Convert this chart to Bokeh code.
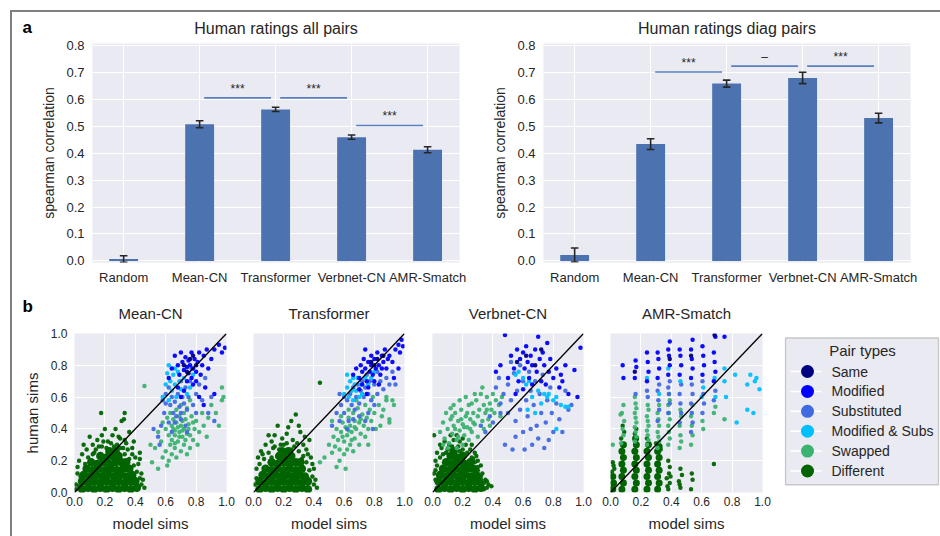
from bokeh.plotting import figure
from bokeh.models import Range1d, FixedTicker, Title, Slope, Div, Spacer, NumeralTickFormatter
from bokeh.layouts import row, column
from bokeh.embed import file_html
from bokeh.resources import INLINE
from bokeh.core.properties import value

FONT = "Liberation Sans"
BG = "#EAEAF2"
BAR = "#4C72B0"
TXT = "#262626"

# ---------------- panel a data ----------------
categories = ["Random", "Mean-CN", "Transformer", "Verbnet-CN", "AMR-Smatch"]
all_pairs_mean = [0.007, 0.508, 0.563, 0.460, 0.413]
all_pairs_err = [0.012, 0.013, 0.008, 0.008, 0.011]
diag_pairs_mean = [0.022, 0.434, 0.659, 0.680, 0.531]
diag_pairs_err = [0.026, 0.020, 0.013, 0.021, 0.018]
all_sig_pairs = [(1, 2), (2, 3), (3, 4)]
all_sig_y = [0.606, 0.606, 0.503]
all_sig_text = ["***", "***", "***"]
diag_sig_pairs = [(1, 2), (2, 3), (3, 4)]
diag_sig_y = [0.702, 0.724, 0.724]
diag_sig_text = ["***", "\u2013", "***"]
bar_yticks = [0.0, 0.1, 0.2, 0.3, 0.4, 0.5, 0.6, 0.7, 0.8]

# ---------------- panel b data ----------------
pair_types = ["Same", "Modified", "Substituted", "Modified & Subs", "Swapped", "Different"]
pair_colors = ["#000080", "#0000FF", "#4169E1", "#00BFFF", "#3CB371", "#006400"]
scatter_ticks = [0.0, 0.2, 0.4, 0.6, 0.8, 1.0]

MEAN_DIFF_CORE = [
    (0.05, 0.02), (0.09, 0.03), (0.13, 0.02), (0.17, 0.03), (0.21, 0.02), (0.25, 0.03), (0.29, 0.02), (0.33, 0.03), (0.37, 0.02), (0.41, 0.03),
    (0.05, 0.07), (0.09, 0.06), (0.13, 0.07), (0.17, 0.06), (0.21, 0.07), (0.25, 0.06), (0.29, 0.07), (0.33, 0.06), (0.37, 0.07), (0.40, 0.07),
    (0.06, 0.11), (0.10, 0.10), (0.14, 0.11), (0.18, 0.10), (0.22, 0.11), (0.26, 0.10), (0.30, 0.11), (0.34, 0.10), (0.38, 0.11),
    (0.08, 0.15), (0.12, 0.14), (0.16, 0.15), (0.20, 0.14), (0.24, 0.15), (0.28, 0.14), (0.32, 0.15), (0.36, 0.15),
    (0.11, 0.19), (0.15, 0.18), (0.19, 0.19), (0.23, 0.18), (0.27, 0.19), (0.31, 0.19), (0.34, 0.19),
    (0.17, 0.23), (0.21, 0.22), (0.25, 0.23), (0.29, 0.23), (0.23, 0.26), (0.27, 0.26)]
MEAN_DIFF = [
    (0.02, 0.12), (0.03, 0.20), (0.05, 0.24), (0.08, 0.27), (0.12, 0.30), (0.15, 0.33), (0.18, 0.36), (0.175, 0.50),
    (0.22, 0.32), (0.25, 0.36), (0.27, 0.40), (0.30, 0.34), (0.31, 0.45), (0.325, 0.46), (0.33, 0.50), (0.34, 0.31),
    (0.36, 0.38), (0.38, 0.28), (0.40, 0.22), (0.42, 0.18), (0.44, 0.12), (0.45, 0.08), (0.46, 0.03), (0.43, 0.25),
    (0.10, 0.35), (0.20, 0.40), (0.28, 0.30), (0.35, 0.27), (0.01, 0.05), (0.14, 0.27), (0.24, 0.31), (0.33, 0.33),
    (0.39, 0.32), (0.06, 0.30), (0.02, 0.16), (0.43, 0.21), (0.16, 0.29), (0.32, 0.28),
    (0.04, 0.10), (0.07, 0.18), (0.09, 0.22), (0.13, 0.25), (0.18, 0.29), (0.21, 0.28), (0.26, 0.29), (0.30, 0.28),
    (0.33, 0.24), (0.36, 0.21), (0.39, 0.17), (0.41, 0.13), (0.43, 0.09), (0.44, 0.05), (0.01, 0.02), (0.03, 0.04),
    (0.19, 0.32), (0.29, 0.35), (0.12, 0.24), (0.38, 0.24)]
MEAN_SWAP = [
    (0.51, 0.19), (0.55, 0.15), (0.58, 0.22), (0.60, 0.26), (0.61, 0.17), (0.63, 0.30), (0.64, 0.24), (0.66, 0.28),
    (0.67, 0.22), (0.70, 0.26), (0.72, 0.30), (0.74, 0.24), (0.76, 0.28), (0.78, 0.33), (0.62, 0.36), (0.64, 0.33),
    (0.65, 0.40), (0.66, 0.36), (0.67, 0.44), (0.68, 0.32), (0.69, 0.38), (0.70, 0.42), (0.71, 0.35), (0.72, 0.40),
    (0.73, 0.46), (0.74, 0.37), (0.75, 0.43), (0.76, 0.36), (0.77, 0.48), (0.79, 0.40), (0.80, 0.45), (0.82, 0.38),
    (0.84, 0.50), (0.85, 0.42), (0.88, 0.47), (0.60, 0.40), (0.58, 0.44), (0.61, 0.47), (0.63, 0.50), (0.65, 0.46),
    (0.67, 0.52), (0.69, 0.48), (0.70, 0.55), (0.72, 0.50), (0.74, 0.53), (0.76, 0.58), (0.57, 0.32), (0.55, 0.38),
    (0.53, 0.28), (0.66, 0.31), (0.71, 0.45), (0.68, 0.41), (0.64, 0.42), (0.73, 0.33), (0.78, 0.44), (0.81, 0.30),
    (0.90, 0.55), (0.95, 0.42), (0.97, 0.58), (0.98, 0.60), (0.97, 0.66), (0.93, 0.50), (0.46, 0.67), (0.50, 0.30),
    (0.87, 0.35), (0.62, 0.20), (0.69, 0.35), (0.71, 0.39), (0.66, 0.39), (0.75, 0.40)]
MEAN_SUBS = [
    (0.55, 0.35), (0.57, 0.42), (0.59, 0.50), (0.60, 0.56), (0.62, 0.44), (0.63, 0.55), (0.64, 0.60), (0.65, 0.50),
    (0.66, 0.57), (0.67, 0.48), (0.68, 0.62), (0.69, 0.54), (0.70, 0.50), (0.71, 0.60), (0.72, 0.56), (0.73, 0.66),
    (0.74, 0.52), (0.75, 0.60), (0.76, 0.70), (0.78, 0.55), (0.80, 0.62), (0.82, 0.68), (0.84, 0.58), (0.86, 0.72),
    (0.88, 0.50), (0.62, 0.66), (0.60, 0.62), (0.58, 0.58), (0.66, 0.44), (0.70, 0.46), (0.73, 0.42), (0.64, 0.38),
    (0.56, 0.30), (0.52, 0.40), (0.90, 0.60), (0.77, 0.78), (0.70, 0.70), (0.74, 0.38), (0.80, 0.50), (0.92, 0.45)]
MEAN_MOD = [
    (0.62, 0.72), (0.64, 0.78), (0.66, 0.86), (0.68, 0.80), (0.69, 0.74), (0.70, 0.88), (0.71, 0.82), (0.72, 0.77),
    (0.73, 0.85), (0.74, 0.79), (0.75, 0.75), (0.75, 0.83), (0.76, 0.80), (0.77, 0.88), (0.77, 0.72), (0.78, 0.78),
    (0.79, 0.84), (0.80, 0.76), (0.80, 0.70), (0.81, 0.82), (0.82, 0.88), (0.83, 0.74), (0.84, 0.80), (0.85, 0.86),
    (0.86, 0.66), (0.87, 0.90), (0.88, 0.78), (0.90, 0.84), (0.92, 0.90), (0.95, 0.93), (0.97, 0.88), (0.99, 0.91),
    (0.78, 0.68), (0.74, 0.70), (0.72, 0.64), (0.82, 0.60), (0.85, 0.55), (0.92, 0.62), (0.68, 0.66), (0.70, 0.60)]
MEAN_MODSUBS = [
    (0.58, 0.60), (0.60, 0.68), (0.61, 0.75), (0.62, 0.58), (0.63, 0.70), (0.64, 0.64), (0.65, 0.74), (0.66, 0.68),
    (0.67, 0.60), (0.68, 0.76), (0.69, 0.70), (0.70, 0.65), (0.72, 0.72), (0.74, 0.62), (0.76, 0.66), (0.78, 0.74),
    (0.66, 0.78), (0.62, 0.80)]
MEAN_SAME = [(0.72, 0.80), (0.76, 0.84), (0.74, 0.76), (0.80, 0.80), (0.78, 0.86)]

TRANS_DIFF_CORE = [
    (0.04, 0.02), (0.08, 0.03), (0.12, 0.02), (0.16, 0.03), (0.20, 0.02), (0.24, 0.03), (0.28, 0.02), (0.32, 0.03), (0.36, 0.02),
    (0.04, 0.07), (0.08, 0.06), (0.12, 0.07), (0.16, 0.06), (0.20, 0.07), (0.24, 0.06), (0.28, 0.07), (0.32, 0.06), (0.36, 0.07),
    (0.06, 0.11), (0.10, 0.10), (0.14, 0.11), (0.18, 0.10), (0.22, 0.11), (0.26, 0.10), (0.30, 0.11), (0.34, 0.10),
    (0.08, 0.15), (0.12, 0.14), (0.16, 0.15), (0.20, 0.14), (0.24, 0.15), (0.28, 0.14), (0.32, 0.15),
    (0.12, 0.19), (0.16, 0.18), (0.20, 0.19), (0.24, 0.18), (0.28, 0.19), (0.31, 0.19),
    (0.17, 0.23), (0.21, 0.22), (0.25, 0.23), (0.19, 0.26), (0.23, 0.26)]
TRANS_DIFF = [
    (0.01, 0.05), (0.02, 0.15), (0.03, 0.22), (0.05, 0.26), (0.08, 0.30), (0.12, 0.32), (0.16, 0.42), (0.14, 0.36),
    (0.19, 0.34), (0.22, 0.37), (0.26, 0.33), (0.28, 0.49), (0.25, 0.45), (0.30, 0.42), (0.31, 0.38), (0.33, 0.30),
    (0.35, 0.27), (0.37, 0.33), (0.38, 0.22), (0.40, 0.15), (0.41, 0.08), (0.42, 0.03), (0.44, 0.69), (0.10, 0.36),
    (0.20, 0.30), (0.34, 0.35), (0.29, 0.31), (0.06, 0.24), (0.23, 0.41), (0.39, 0.18), (0.13, 0.28), (0.36, 0.24),
    (0.02, 0.09), (0.04, 0.18), (0.07, 0.21), (0.10, 0.25), (0.14, 0.29), (0.18, 0.30), (0.22, 0.31), (0.27, 0.29),
    (0.30, 0.26), (0.33, 0.23), (0.35, 0.19), (0.37, 0.14), (0.39, 0.10), (0.40, 0.05), (0.17, 0.27), (0.25, 0.27),
    (0.12, 0.22), (0.32, 0.21)]
TRANS_SWAP = [
    (0.44, 0.19), (0.47, 0.22), (0.50, 0.30), (0.52, 0.25), (0.53, 0.35), (0.54, 0.29), (0.55, 0.40), (0.56, 0.33),
    (0.57, 0.27), (0.58, 0.38), (0.59, 0.44), (0.60, 0.32), (0.60, 0.24), (0.61, 0.41), (0.62, 0.36), (0.63, 0.47),
    (0.64, 0.30), (0.64, 0.42), (0.65, 0.38), (0.66, 0.50), (0.67, 0.34), (0.67, 0.45), (0.68, 0.40), (0.69, 0.53),
    (0.70, 0.44), (0.71, 0.37), (0.72, 0.49), (0.73, 0.42), (0.74, 0.55), (0.75, 0.47), (0.76, 0.40), (0.77, 0.52),
    (0.78, 0.45), (0.80, 0.50), (0.81, 0.40), (0.83, 0.55), (0.85, 0.48), (0.86, 0.52), (0.88, 0.58), (0.90, 0.44),
    (0.92, 0.58), (0.93, 0.55), (0.57, 0.20), (0.62, 0.27), (0.66, 0.26), (0.58, 0.48), (0.70, 0.30), (0.74, 0.35),
    (0.79, 0.60), (0.55, 0.16), (0.63, 0.52), (0.68, 0.58), (0.61, 0.15), (0.72, 0.62), (0.84, 0.42), (0.90, 0.46),
    (0.52, 0.45), (0.76, 0.30), (0.88, 0.60), (0.65, 0.33), (0.59, 0.35), (0.63, 0.39), (0.67, 0.41), (0.71, 0.46)]
TRANS_SUBS = [
    (0.52, 0.42), (0.55, 0.50), (0.57, 0.45), (0.58, 0.55), (0.60, 0.50), (0.62, 0.58), (0.63, 0.45), (0.64, 0.62),
    (0.65, 0.55), (0.66, 0.66), (0.67, 0.52), (0.68, 0.60), (0.69, 0.68), (0.70, 0.56), (0.71, 0.64), (0.72, 0.70),
    (0.73, 0.60), (0.74, 0.66), (0.75, 0.74), (0.76, 0.62), (0.77, 0.70), (0.78, 0.58), (0.80, 0.68), (0.82, 0.76),
    (0.84, 0.70), (0.86, 0.65), (0.88, 0.72), (0.90, 0.68), (0.92, 0.76), (0.76, 0.50), (0.79, 0.40), (0.62, 0.40),
    (0.66, 0.46), (0.70, 0.48), (0.74, 0.45), (0.60, 0.60), (0.57, 0.62), (0.82, 0.62), (0.80, 0.55), (0.94, 0.68)]
TRANS_MOD = [
    (0.66, 0.74), (0.68, 0.78), (0.70, 0.72), (0.71, 0.80), (0.72, 0.76), (0.73, 0.84), (0.74, 0.78), (0.75, 0.70),
    (0.76, 0.82), (0.77, 0.76), (0.78, 0.86), (0.78, 0.80), (0.79, 0.74), (0.80, 0.84), (0.81, 0.78), (0.82, 0.88),
    (0.83, 0.80), (0.84, 0.74), (0.85, 0.86), (0.86, 0.82), (0.87, 0.90), (0.88, 0.78), (0.90, 0.86), (0.92, 0.82),
    (0.94, 0.90), (0.96, 0.93), (0.97, 0.88), (0.98, 0.96), (0.99, 0.92), (0.93, 0.72), (0.96, 0.78), (0.80, 0.70),
    (0.76, 0.66), (0.72, 0.68), (0.74, 0.90), (0.70, 0.65), (0.85, 0.78), (0.89, 0.84), (0.83, 0.68), (0.75, 0.62)]
TRANS_MODSUBS = [
    (0.60, 0.62), (0.62, 0.66), (0.63, 0.60), (0.64, 0.70), (0.65, 0.64), (0.66, 0.58), (0.67, 0.68), (0.68, 0.64),
    (0.69, 0.72), (0.70, 0.60), (0.71, 0.68), (0.72, 0.62), (0.74, 0.72), (0.76, 0.68), (0.78, 0.72), (0.66, 0.72),
    (0.62, 0.74), (0.80, 0.76)]
TRANS_SAME = [(0.78, 0.82), (0.82, 0.84), (0.86, 0.86), (0.80, 0.80)]

VERB_DIFF_CORE = [
    (0.04, 0.02), (0.08, 0.03), (0.12, 0.02), (0.16, 0.03), (0.20, 0.02), (0.24, 0.03), (0.28, 0.02), (0.32, 0.03),
    (0.04, 0.07), (0.08, 0.06), (0.12, 0.07), (0.16, 0.06), (0.20, 0.07), (0.24, 0.06), (0.28, 0.07), (0.31, 0.07),
    (0.05, 0.11), (0.09, 0.10), (0.13, 0.11), (0.17, 0.10), (0.21, 0.11), (0.25, 0.10), (0.29, 0.11),
    (0.07, 0.15), (0.11, 0.14), (0.15, 0.15), (0.19, 0.14), (0.23, 0.15), (0.27, 0.15),
    (0.09, 0.19), (0.13, 0.18), (0.17, 0.19), (0.21, 0.18), (0.25, 0.19),
    (0.12, 0.23), (0.16, 0.22), (0.20, 0.23), (0.14, 0.26)]
VERB_DIFF = [
    (0.01, 0.36), (0.01, 0.12), (0.02, 0.20), (0.03, 0.25), (0.06, 0.28), (0.08, 0.32), (0.11, 0.30), (0.14, 0.33),
    (0.18, 0.32), (0.22, 0.30), (0.25, 0.27), (0.28, 0.25), (0.30, 0.20), (0.32, 0.17), (0.33, 0.12), (0.35, 0.08),
    (0.37, 0.05), (0.39, 0.04), (0.34, 0.02), (0.05, 0.30), (0.16, 0.36), (0.20, 0.34), (0.26, 0.30), (0.30, 0.14),
    (0.12, 0.36), (0.36, 0.03), (0.02, 0.08), (0.29, 0.23),
    (0.02, 0.14), (0.03, 0.17), (0.05, 0.22), (0.07, 0.24), (0.10, 0.27), (0.13, 0.29), (0.17, 0.29), (0.20, 0.27),
    (0.23, 0.25), (0.26, 0.22), (0.28, 0.19), (0.30, 0.16), (0.32, 0.10), (0.34, 0.06), (0.09, 0.25), (0.18, 0.26),
    (0.27, 0.21), (0.36, 0.07)]
VERB_SWAP = [
    (0.05, 0.38), (0.07, 0.44), (0.08, 0.34), (0.09, 0.50), (0.10, 0.40), (0.11, 0.31), (0.12, 0.46), (0.12, 0.53),
    (0.13, 0.37), (0.14, 0.42), (0.15, 0.50), (0.16, 0.33), (0.17, 0.45), (0.18, 0.39), (0.19, 0.52), (0.20, 0.43),
    (0.21, 0.36), (0.22, 0.48), (0.23, 0.41), (0.24, 0.55), (0.25, 0.46), (0.26, 0.38), (0.27, 0.50), (0.28, 0.43),
    (0.29, 0.58), (0.30, 0.48), (0.31, 0.52), (0.32, 0.62), (0.33, 0.45), (0.33, 0.66), (0.34, 0.55), (0.35, 0.50),
    (0.36, 0.60), (0.37, 0.46), (0.38, 0.56), (0.39, 0.52), (0.40, 0.62), (0.41, 0.50), (0.42, 0.58), (0.44, 0.55),
    (0.46, 0.60), (0.16, 0.28), (0.20, 0.30), (0.24, 0.33), (0.10, 0.28), (0.14, 0.55), (0.18, 0.58), (0.22, 0.60),
    (0.26, 0.56), (0.30, 0.35), (0.07, 0.30), (0.34, 0.40), (0.38, 0.42), (0.28, 0.62), (0.19, 0.46), (0.13, 0.48),
    (0.23, 0.50), (0.27, 0.44), (0.36, 0.52), (0.45, 0.48), (0.15, 0.40), (0.21, 0.41), (0.17, 0.35), (0.25, 0.40)]
VERB_SUBS = [
    (0.32, 0.42), (0.35, 0.38), (0.38, 0.48), (0.40, 0.44), (0.42, 0.66), (0.44, 0.72), (0.45, 0.56), (0.47, 0.62),
    (0.48, 0.30), (0.50, 0.50), (0.50, 0.68), (0.52, 0.58), (0.53, 0.27), (0.54, 0.75), (0.55, 0.45), (0.56, 0.64),
    (0.58, 0.52), (0.58, 0.80), (0.60, 0.38), (0.60, 0.70), (0.61, 0.27), (0.62, 0.58), (0.63, 0.48), (0.64, 0.76),
    (0.65, 0.64), (0.66, 0.30), (0.67, 0.55), (0.68, 0.70), (0.69, 0.42), (0.70, 0.34), (0.71, 0.62), (0.72, 0.50),
    (0.73, 0.74), (0.75, 0.44), (0.76, 0.58), (0.77, 0.33), (0.78, 0.66), (0.79, 0.50), (0.80, 0.38), (0.82, 0.56),
    (0.84, 0.46), (0.86, 0.38), (0.88, 0.64), (0.90, 0.52), (0.92, 0.55), (0.55, 0.35), (0.65, 0.40), (0.45, 0.50),
    (0.52, 0.82), (0.74, 0.28)]
VERB_MOD = [
    (0.42, 0.76), (0.45, 0.80), (0.48, 0.99), (0.50, 0.72), (0.52, 0.86), (0.54, 0.78), (0.56, 0.90), (0.57, 0.70),
    (0.58, 0.84), (0.60, 0.88), (0.61, 0.78), (0.62, 0.92), (0.63, 0.82), (0.64, 0.72), (0.65, 0.86), (0.66, 0.80),
    (0.68, 0.90), (0.69, 0.76), (0.70, 0.98), (0.71, 0.84), (0.72, 0.70), (0.73, 0.88), (0.74, 0.80), (0.76, 0.94),
    (0.77, 0.76), (0.78, 0.84), (0.80, 0.72), (0.82, 0.78), (0.84, 0.66), (0.86, 0.70), (0.88, 0.80), (0.90, 0.62),
    (0.94, 0.77), (0.96, 0.60), (0.98, 0.91), (0.60, 0.65), (0.55, 0.62), (0.66, 0.68), (0.75, 0.68), (0.85, 0.74)]
VERB_MODSUBS = [
    (0.55, 0.74), (0.57, 0.76), (0.60, 0.72), (0.62, 0.68), (0.64, 0.70), (0.66, 0.60), (0.70, 0.64), (0.72, 0.56),
    (0.74, 0.62), (0.76, 0.60), (0.77, 0.62), (0.80, 0.58), (0.82, 0.60), (0.85, 0.55), (0.88, 0.54), (0.90, 0.54),
    (0.82, 0.40), (0.68, 0.50), (0.63, 0.52)]
VERB_SAME = [(0.62, 0.86), (0.68, 0.80), (0.72, 0.90), (0.56, 0.82)]

AMR_DIFF_CORE = [
    (0.015, 0.02), (0.02, 0.06), (0.015, 0.10),
    (0.075, 0.02), (0.085, 0.06), (0.075, 0.10), (0.085, 0.14), (0.075, 0.18), (0.085, 0.22), (0.075, 0.26), (0.085, 0.30),
    (0.16, 0.02), (0.17, 0.06), (0.16, 0.10), (0.17, 0.14), (0.16, 0.18), (0.17, 0.22), (0.16, 0.26), (0.17, 0.30), (0.165, 0.34),
    (0.24, 0.02), (0.25, 0.06), (0.24, 0.10), (0.25, 0.14), (0.24, 0.18), (0.25, 0.22), (0.24, 0.26), (0.25, 0.30),
    (0.31, 0.02), (0.32, 0.06), (0.31, 0.10), (0.32, 0.14), (0.31, 0.18), (0.32, 0.22), (0.31, 0.26), (0.32, 0.29)]
AMR_DIFF = [
    (0.01, 0.13), (0.025, 0.15), (0.015, 0.19), (0.02, 0.17), (0.07, 0.34), (0.09, 0.38), (0.08, 0.42), (0.16, 0.37),
    (0.17, 0.40), (0.24, 0.34), (0.38, 0.02), (0.39, 0.06), (0.37, 0.09), (0.385, 0.12), (0.39, 0.16), (0.38, 0.20),
    (0.375, 0.04), (0.395, 0.10), (0.46, 0.03), (0.45, 0.07), (0.47, 0.11), (0.46, 0.15), (0.455, 0.05), (0.53, 0.02),
    (0.54, 0.08), (0.535, 0.12), (0.68, 0.18), (0.33, 0.27), (0.30, 0.31)]
AMR_SWAP = [
    (0.07, 0.31), (0.085, 0.36), (0.08, 0.40), (0.09, 0.45), (0.075, 0.50), (0.085, 0.55), (0.066, 0.49), (0.015, 0.30),
    (0.16, 0.32), (0.17, 0.35), (0.165, 0.38), (0.16, 0.41), (0.17, 0.44), (0.165, 0.47), (0.16, 0.50), (0.17, 0.53),
    (0.165, 0.56), (0.16, 0.60),
    (0.24, 0.30), (0.25, 0.33), (0.245, 0.36), (0.24, 0.39), (0.25, 0.42), (0.245, 0.45), (0.24, 0.48), (0.25, 0.52), (0.245, 0.55),
    (0.31, 0.28), (0.32, 0.32), (0.315, 0.35), (0.31, 0.38), (0.32, 0.42), (0.315, 0.46), (0.31, 0.50), (0.32, 0.55),
    (0.38, 0.30), (0.39, 0.34), (0.385, 0.38), (0.38, 0.42), (0.39, 0.46), (0.385, 0.50), (0.38, 0.55), (0.39, 0.58), (0.385, 0.62),
    (0.455, 0.28), (0.465, 0.32), (0.46, 0.36), (0.455, 0.42), (0.465, 0.48), (0.46, 0.52),
    (0.53, 0.30), (0.54, 0.36), (0.535, 0.42), (0.53, 0.48), (0.54, 0.55),
    (0.61, 0.40), (0.605, 0.45), (0.68, 0.50), (0.69, 0.54), (0.75, 0.46)]
AMR_SUBS = [
    (0.165, 0.62), (0.245, 0.60), (0.24, 0.64),
    (0.31, 0.45), (0.32, 0.52), (0.315, 0.58), (0.31, 0.64), (0.32, 0.68),
    (0.38, 0.50), (0.39, 0.56), (0.385, 0.62), (0.38, 0.66), (0.39, 0.70),
    (0.455, 0.44), (0.465, 0.50), (0.46, 0.56), (0.455, 0.62), (0.465, 0.68),
    (0.53, 0.38), (0.54, 0.44), (0.535, 0.50), (0.53, 0.56), (0.54, 0.62), (0.535, 0.68),
    (0.605, 0.50), (0.615, 0.56), (0.61, 0.62), (0.605, 0.70), (0.68, 0.58), (0.69, 0.64)]
AMR_MOD = [
    (0.085, 0.72), (0.08, 0.80), (0.16, 0.72), (0.17, 0.79), (0.165, 0.83),
    (0.24, 0.70), (0.25, 0.76), (0.245, 0.82), (0.24, 0.88),
    (0.31, 0.72), (0.32, 0.78), (0.315, 0.84), (0.31, 0.88),
    (0.38, 0.74), (0.39, 0.80), (0.385, 0.86), (0.38, 0.90), (0.39, 0.95),
    (0.455, 0.74), (0.465, 0.80), (0.46, 0.86), (0.455, 0.90),
    (0.53, 0.72), (0.54, 0.78), (0.535, 0.84), (0.53, 0.90), (0.54, 0.96),
    (0.605, 0.74), (0.615, 0.80), (0.61, 0.86), (0.605, 0.92),
    (0.68, 0.70), (0.69, 0.76), (0.685, 0.82), (0.68, 0.88), (0.69, 0.98), (0.75, 0.98)]
AMR_MODSUBS = [
    (0.24, 0.72), (0.32, 0.62), (0.38, 0.78), (0.46, 0.70), (0.61, 0.66), (0.685, 0.72), (0.75, 0.70), (0.76, 0.60),
    (0.75, 0.78), (0.82, 0.74), (0.83, 0.44), (0.90, 0.52), (0.90, 0.68), (0.92, 0.74), (0.95, 0.70), (0.98, 0.65),
    (0.94, 0.50), (0.96, 0.72), (0.69, 0.60), (0.60, 0.60)]
AMR_SAME = [(0.685, 0.99), (0.53, 0.86), (0.39, 0.84), (0.16, 0.76)]

scatter_panels = [
    ("Mean-CN", MEAN_DIFF_CORE, [MEAN_SAME, MEAN_MOD, MEAN_SUBS, MEAN_MODSUBS, MEAN_SWAP, MEAN_DIFF]),
    ("Transformer", TRANS_DIFF_CORE, [TRANS_SAME, TRANS_MOD, TRANS_SUBS, TRANS_MODSUBS, TRANS_SWAP, TRANS_DIFF]),
    ("Verbnet-CN", VERB_DIFF_CORE, [VERB_SAME, VERB_MOD, VERB_SUBS, VERB_MODSUBS, VERB_SWAP, VERB_DIFF]),
    ("AMR-Smatch", AMR_DIFF_CORE, [AMR_SAME, AMR_MOD, AMR_SUBS, AMR_MODSUBS, AMR_SWAP, AMR_DIFF]),
]


def make_title(text, size, standoff, valign, align="center", offset=0, bold=False):
    return Title(text=text, align=align, offset=offset, standoff=standoff, vertical_align=valign,
                 text_font=FONT, text_font_size=size,
                 text_font_style="bold" if bold else "normal",
                 text_color="black" if bold else TXT)


def style_axes(p, tick_size, label_size):
    for ax in (p.xaxis, p.yaxis):
        ax.axis_line_color = None
        ax.major_tick_line_color = None
        ax.minor_tick_line_color = None
        ax.major_tick_out = 0
        ax.major_tick_in = 0
        ax.major_label_text_font = FONT
        ax.major_label_text_font_size = tick_size
        ax.major_label_text_color = TXT
        ax.axis_label_text_font = FONT
        ax.axis_label_text_font_size = label_size
        ax.axis_label_text_font_style = "normal"
        ax.axis_label_text_color = TXT
    p.xgrid.grid_line_color = "white"
    p.ygrid.grid_line_color = "white"
    p.xgrid.grid_line_width = 1
    p.ygrid.grid_line_width = 1


def bar_panel(title, means, errs, sig_pairs, sig_y, sig_text, width, left, right, letter=" "):
    p = figure(width=width, height=278, x_range=Range1d(-0.41, 4.42), y_range=Range1d(-0.006, 0.808),
               output_backend="svg", toolbar_location=None, title=None,
               min_border_left=left, min_border_right=right, min_border_top=31, min_border_bottom=28,
               background_fill_color=BG, border_fill_color="white", outline_line_color=None)
    # the panel letter sits next to the frame, the title shares its row
    p.add_layout(make_title(letter, "17px", 8.8, "top", align="left", offset=-70, bold=True), "above")
    p.add_layout(make_title(title, "16px", -47.6, "bottom"), "above")
    xs = list(range(len(categories)))
    xt = FixedTicker(ticks=xs)
    yt = FixedTicker(ticks=bar_yticks)
    p.xaxis.ticker = xt
    p.xgrid.ticker = xt
    p.yaxis.ticker = yt
    p.ygrid.ticker = yt
    p.xaxis.major_label_overrides = {i: c for i, c in enumerate(categories)}
    p.yaxis.formatter = NumeralTickFormatter(format="0.0")
    p.yaxis.axis_label = "spearman correlation"
    style_axes(p, "13px", "14px")
    p.xaxis.major_label_standoff = 7
    p.yaxis.major_label_standoff = 8
    p.yaxis.axis_label_standoff = 6

    p.vbar(x=xs, top=means, bottom=0, width=0.38, fill_color=BAR, line_color=None)
    lo = [m - e for m, e in zip(means, errs)]
    hi = [m + e for m, e in zip(means, errs)]
    p.segment(x0=xs, y0=lo, x1=xs, y1=hi, line_color=TXT, line_width=1.6)
    cap = 0.05
    p.segment(x0=[x - cap for x in xs], y0=lo, x1=[x + cap for x in xs], y1=lo, line_color=TXT, line_width=1.6)
    p.segment(x0=[x - cap for x in xs], y0=hi, x1=[x + cap for x in xs], y1=hi, line_color=TXT, line_width=1.6)

    gap = 0.06
    p.segment(x0=[a + gap for a, b in sig_pairs], x1=[b - gap for a, b in sig_pairs],
              y0=sig_y, y1=sig_y, line_color="#5A7FC0", line_width=1.6)
    p.text(x=[(a + b) / 2 for a, b in sig_pairs], y=[v + 0.008 for v in sig_y], text=sig_text,
           text_align="center", text_baseline="bottom", text_font=value(FONT),
           text_font_size="12px", text_color=TXT)
    return p


pA = bar_panel("Human ratings all pairs", all_pairs_mean, all_pairs_err, all_sig_pairs, all_sig_y,
               all_sig_text, 458, 80, 11, letter="a")
pB = bar_panel("Human ratings diag pairs", diag_pairs_mean, diag_pairs_err, diag_sig_pairs, diag_sig_y,
               diag_sig_text, 470, 73, 30)

SC_TOP, SC_BOTTOM = 43, 44
# scatter panels: (width, min_border_left, min_border_right)
scatter_geom = [(228, 62, 14), (178, 13, 14), (178, 14, 13), (179, 14, 13)]
scatter_figs = []
for k, (name, core, groups) in enumerate(scatter_panels):
    w, l, r = scatter_geom[k]
    p = figure(width=w, height=246, x_range=Range1d(0, 1), y_range=Range1d(0, 1),
               output_backend="svg", toolbar_location=None, title=None,
               min_border_left=l, min_border_right=r, min_border_top=SC_TOP, min_border_bottom=SC_BOTTOM,
               background_fill_color=BG, border_fill_color="white", outline_line_color=None)
    p.add_layout(make_title(name, "15px", 19.2, "top"), "above")
    if k == 0:
        p.add_layout(make_title("b", "17px", -41.4, "bottom", align="left", offset=-52, bold=True), "above")
    t = FixedTicker(ticks=scatter_ticks)
    p.xaxis.ticker = t
    p.yaxis.ticker = t
    p.xgrid.ticker = t
    p.ygrid.ticker = t
    p.xaxis.formatter = NumeralTickFormatter(format="0.0")
    p.yaxis.formatter = NumeralTickFormatter(format="0.0")
    p.xaxis.axis_label = "model sims"
    style_axes(p, "12px", "15px")
    p.xaxis.major_label_standoff = 4
    p.xaxis.axis_label_standoff = 6
    p.yaxis.major_label_standoff = 7
    p.yaxis.axis_label_standoff = 7
    if k == 0:
        p.yaxis.axis_label = "human sims"
    else:
        p.yaxis.visible = False
    # dense core of the "Different" cloud
    p.scatter(x=[q[0] for q in core], y=[q[1] for q in core], size=8.5 if k < 3 else 7,
              fill_color=pair_colors[5], line_color=None)
    # draw order: Different, Swapped, Substituted, Mod&Subs, Modified, Same
    for gi in [5, 4, 2, 3, 1, 0]:
        pts = groups[gi]
        p.scatter(x=[q[0] for q in pts], y=[q[1] for q in pts], size=4.5,
                  fill_color=pair_colors[gi], line_color=None, fill_alpha=0.95)
    p.add_layout(Slope(gradient=1, y_intercept=0, line_color="black", line_width=1.3))
    scatter_figs.append(p)

# legend panel (frame aligned with the scatter frames; the box is drawn inside)
leg = figure(width=165, height=246, x_range=Range1d(-1, 154), y_range=Range1d(6.08, -1.91),
             output_backend="svg", toolbar_location=None,
             min_border_left=9, min_border_right=1, min_border_top=SC_TOP, min_border_bottom=SC_BOTTOM,
             background_fill_color="white", border_fill_color="white", outline_line_color=None)
leg.axis.visible = False
leg.grid.visible = False
leg.quad(left=[0], right=[153], top=[-1.69], bottom=[5.69], fill_color=BG,
         line_color="#c8c8c8", line_width=1.5)
rows = list(range(len(pair_types)))
leg.segment(x0=[5] * len(rows), x1=[36] * len(rows), y0=rows, y1=rows, line_color="white", line_width=1.5)
leg.scatter(x=[22] * len(rows), y=rows, size=13, fill_color=pair_colors, line_color=None)
leg.text(x=[46] * len(rows), y=rows, text=pair_types, text_baseline="middle", text_align="left",
         text_font=value(FONT), text_font_size="14px", text_color=TXT)
leg.text(x=[77], y=[-1.05], text=["Pair types"], text_baseline="middle", text_align="center",
         text_font=value(FONT), text_font_size="15px", text_color=TXT)

GRAY = "#7f7f7f"
top_row = row(pA, pB)
bottom_row = row(*scatter_figs, leg)
content = column(top_row, bottom_row)
hline = Div(text="", width=930, height=2, margin=0, styles={"background-color": GRAY})
vline = Div(text="", width=2, height=524, margin=0, styles={"background-color": GRAY})
inner = column(hline, row(vline, content))
page = column(Spacer(width=940, height=10, margin=0), row(Spacer(width=10, height=526, margin=0), inner))

open("out.html", "w").write(file_html(page, INLINE))
